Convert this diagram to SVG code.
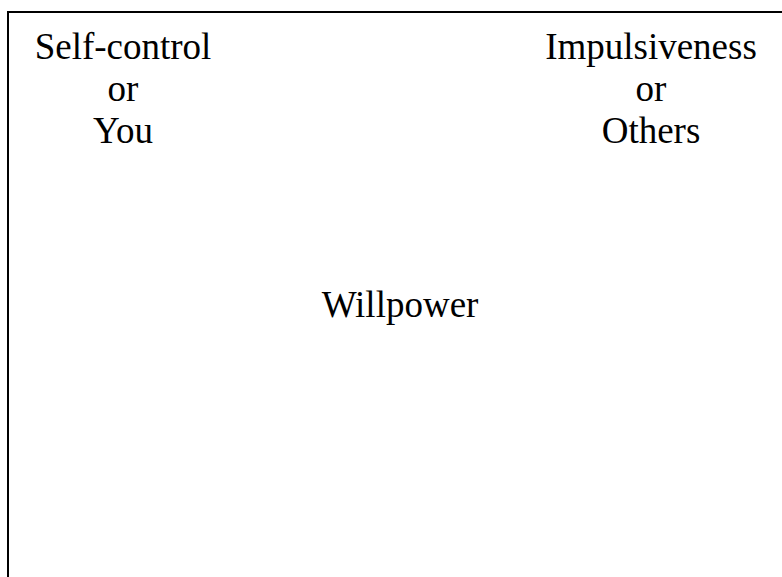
<svg xmlns="http://www.w3.org/2000/svg" width="782" height="577" viewBox="0 0 782 577">
<style>
text{font-family:"Liberation Serif","Times New Roman",serif;font-size:37px;fill:#000;text-anchor:middle}
.frame{fill:none;stroke:#000;stroke-width:2}
</style>
<rect width="782" height="577" fill="#fff"/>
<g id="frame"><path class="frame" d="M8,577 V12 H782"/></g>
<g id="connectors"></g>
<g id="self-control">
<text x="123" y="59">Self-control</text>
<text x="123" y="101">or</text>
<text x="123" y="143">You</text>
</g>
<g id="impulsiveness">
<text x="651" y="59">Impulsiveness</text>
<text x="651" y="101">or</text>
<text x="651" y="143">Others</text>
</g>
<g id="willpower"><text x="400" y="317">Willpower</text></g>
</svg>
